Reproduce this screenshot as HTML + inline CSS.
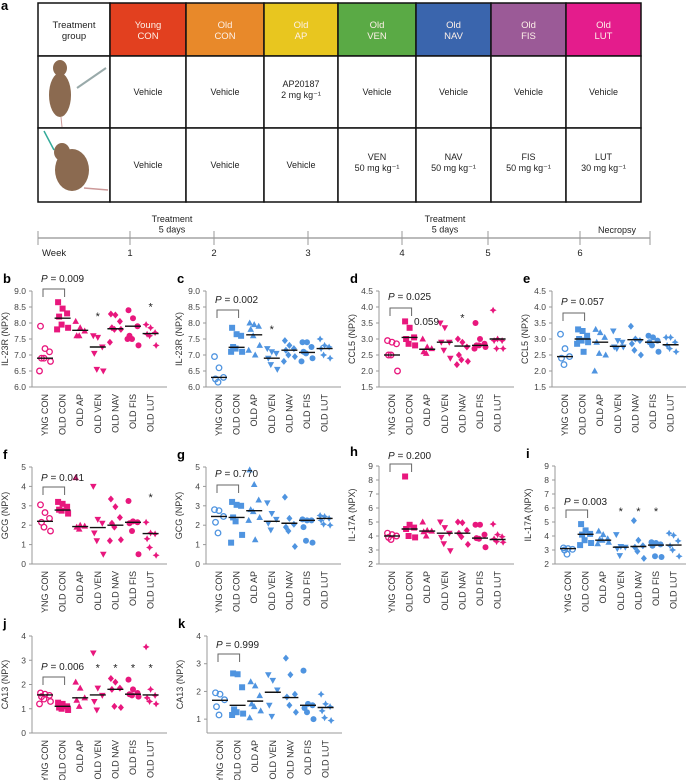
<!DOCTYPE html>
<html><head><meta charset="utf-8"><style>
body{margin:0;background:#fff}
svg{display:block;font-family:"Liberation Sans",sans-serif}
</style></head><body>
<svg id="fig" width="686" height="780" viewBox="0 0 686 780">
<text x="1" y="10" font-size="13" font-weight="bold">a</text>
<g id="table"></g>
<g id="timeline"></g>
<g id="panels"></g>
</svg>
<script>
const NS="http://www.w3.org/2000/svg";
const categories=["YNG CON","OLD CON","OLD AP","OLD VEN","OLD NAV","OLD FIS","OLD LUT"];
const headerTitles=[["Treatment","group"],["Young","CON"],["Old","CON"],["Old","AP"],["Old","VEN"],["Old","NAV"],["Old","FIS"],["Old","LUT"]];
const headerColors=["#ffffff","#e2401f","#e8892a","#e8c61f","#5aaa45","#3a65ad","#9b5a97","#e41c8c"];
const row1Text=[null,["Vehicle"],["Vehicle"],["AP20187","2 mg kg⁻¹"],["Vehicle"],["Vehicle"],["Vehicle"],["Vehicle"]];
const row2Text=[null,["Vehicle"],["Vehicle"],["Vehicle"],["VEN","50 mg kg⁻¹"],["NAV","50 mg kg⁻¹"],["FIS","50 mg kg⁻¹"],["LUT","30 mg kg⁻¹"]];
const weekLabels=["Week","1","2","3","4","5","6"];

const bVals=[[7.9,7.2,7.1,6.9,6.9,6.8,6.5],[8.65,8.45,8.3,8.2,7.95,7.85,7.8],[8.05,7.85,7.75,7.6,7.6],[7.6,7.55,7.25,7.05,6.55,6.5],[8.28,8.25,8.05,7.85,7.8,7.8,7.4],[8.4,8.15,7.9,7.6,7.5,7.3,7.5],[7.95,7.85,7.7,7.65,7.6,7.3]];
const bMeds=[6.9,8.15,7.77,7.25,7.82,7.9,7.67];
const cVals=[[6.95,6.6,6.3,6.25,6.15],[7.85,7.65,7.6,7.25,7.2,7.1,7.1],[8.0,7.95,7.9,7.8,7.6,7.3,7.15,7.0],[7.2,7.1,7.05,6.9,6.7,6.55],[7.45,7.3,7.2,7.15,7.0,6.95,6.8],[7.4,7.4,7.25,7.1,7.05,6.9,6.8],[7.5,7.3,7.25,7.2,7.0,6.9]];
const cMeds=[6.3,7.24,7.63,6.9,7.15,7.08,7.2];
const dVals=[[2.95,2.9,2.85,2.5,2.5,2.0],[3.55,3.35,3.05,3.0,2.85,2.8],[3.0,2.75,2.7,2.6,2.55],[3.5,3.35,2.9,2.9,2.65,2.4],[3.0,2.9,2.75,2.5,2.35,2.3,2.2],[3.5,3.0,2.85,2.8,2.8,2.75,2.7],[3.9,3.0,2.95,2.95,2.7,2.7]];
const dMeds=[2.5,3.05,2.68,2.9,2.78,2.8,3.0];
const eVals=[[3.15,2.7,2.45,2.4,2.2],[3.3,3.25,3.1,3.0,2.95,2.9,2.85,2.6],[3.3,3.2,3.05,2.9,2.55,2.5,2.0],[3.25,2.95,2.9,2.75,2.7,2.75],[3.4,3.0,2.95,2.85,2.65,2.5],[3.1,3.05,2.95,2.9,2.8,2.6],[3.05,3.05,2.9,2.8,2.7,2.6]];
const eMeds=[2.45,3.0,2.9,2.77,2.98,2.9,2.82];
const fVals=[[3.05,2.65,2.35,2.15,1.9,1.7],[3.2,3.1,2.95,2.8,2.75,2.6],[4.45,2.0,1.95,1.9,1.8],[4.0,2.3,2.1,1.6,1.2,0.5],[3.35,2.95,2.4,2.1,1.9,1.25,1.2],[3.25,2.2,2.15,2.1,1.7,0.5],[2.15,1.6,1.55,1.3,0.85,0.45]];
const fMeds=[2.2,2.78,1.93,1.88,2.0,2.15,1.57];
const gVals=[[2.8,2.75,2.45,2.15,1.6],[3.2,3.05,3.0,2.4,2.2,1.5,1.1],[4.85,4.1,3.3,2.8,2.7,2.4,2.25,1.25],[3.15,2.6,2.3,2.1,1.75],[3.45,2.35,2.05,1.9,1.7,0.9],[2.3,2.25,2.25,1.9,1.2,1.1],[2.5,2.45,2.35,2.25,2.05,2.0]];
const gMeds=[2.45,2.4,2.75,2.2,2.1,2.25,2.35];
const hVals=[[4.2,4.1,4.0,3.9,3.75],[8.25,4.8,4.6,4.5,4.0,3.9],[5.0,4.4,4.35,4.3,4.0],[5.0,4.6,4.2,3.9,3.45,2.95],[5.0,4.95,4.4,4.2,3.95,3.4],[4.8,4.8,4.1,3.85,3.8,3.2],[4.85,4.1,3.95,3.8,3.6,3.55]];
const hMeds=[4.0,4.5,4.35,4.2,4.2,3.85,3.75];
const iVals=[[3.15,3.1,3.05,3.0,2.7],[4.85,4.4,4.15,4.1,3.7,3.5,3.35],[4.35,4.1,3.8,3.75,3.7,3.55,3.45],[4.1,3.25,3.2,3.1,2.6],[5.1,3.7,3.3,3.2,2.9,2.4],[3.55,3.5,3.4,3.3,2.55,2.5],[4.2,4.05,3.65,3.3,3.0,2.55]];
const iMeds=[3.1,4.12,3.7,3.2,3.25,3.35,3.35];
const jVals=[[1.65,1.6,1.55,1.5,1.4,1.3,1.2],[1.25,1.2,1.1,1.05,1.0,0.95],[2.1,1.85,1.45,1.35,1.1],[3.3,1.85,1.55,1.3,0.95],[2.25,2.1,1.85,1.8,1.1,1.05],[2.2,1.8,1.65,1.6,1.55,1.5],[3.55,1.8,1.55,1.45,1.3,1.2]];
const jMeds=[1.57,1.1,1.45,1.57,1.8,1.6,1.57];
const kVals=[[1.95,1.9,1.7,1.45,1.15],[2.65,2.62,2.15,1.35,1.25,1.2,1.15],[2.35,2.2,1.85,1.55,1.45,1.3,1.05],[2.6,2.4,2.05,1.5,1.1],[3.2,2.6,1.9,1.8,1.5,1.25],[2.75,1.55,1.5,1.4,1.25,1.0],[1.9,1.55,1.45,1.3,1.05,0.95]];
const kMeds=[1.68,1.5,1.65,1.97,1.78,1.5,1.42];
const ticksIL23=[6.0,6.5,7.0,7.5,8.0,8.5,9.0];
const ticksCCL5=[1.5,2.0,2.5,3.0,3.5,4.0,4.5];
const ticksGCG=[0,1,2,3,4,5];
const ticksIL17=[2,3,4,5,6,7,8,9];
const ticksCA13j=[0,1,2,3,4];
const ticksCA13k=[1,2,3,4];
const pTexts=["0.009","0.002","0.025","0.057","0.041","0.770","0.200","0.003","0.006","0.999"];

const PINK="#e8177d",BLUE="#4f94e0";
function el(tag,attrs,parent){const e=document.createElementNS(NS,tag);for(const k in attrs)e.setAttribute(k,attrs[k]);if(parent)parent.appendChild(e);return e;}
function txt(s,attrs,parent){const e=el("text",attrs,parent);e.textContent=s;return e;}

// ---- table ----
const tbl=document.getElementById("table");
const colX=[38,110,186,264,338,416,491,566,641];
const rowY=[3,56,128,202];
for(let c=0;c<8;c++){
  const r=el("rect",{x:colX[c],y:rowY[0],width:colX[c+1]-colX[c],height:rowY[1]-rowY[0],fill:headerColors[c],stroke:"#111","stroke-width":1.5},tbl);
  
  
  const cx=(colX[c]+colX[c+1])/2;
  headerTitles[c].forEach((s,k)=>{const t=txt(s,{x:cx,y:28+k*11,"font-size":9.5,"text-anchor":"middle",fill:c==0?"#222":"#fdf0e8"},tbl);
    });
  for(let r2=1;r2<3;r2++){
    const rc=el("rect",{x:colX[c],y:rowY[r2],width:colX[c+1]-colX[c],height:rowY[r2+1]-rowY[r2],fill:"#fff",stroke:"#111","stroke-width":1.5},tbl);
    
    const arr=(r2==1?row1Text:row2Text)[c];
    if(arr){const cy=(rowY[r2]+rowY[r2+1])/2;const off=arr.length==2?-5:3;
      arr.forEach((s,k)=>{const t=txt(s,{x:cx,y:cy+off+k*11,"font-size":9,"text-anchor":"middle",fill:"#222"},tbl);
        });}
  }
}
// mice
const m1=el("g",{},tbl);
el("ellipse",{cx:60,cy:95,rx:11,ry:22,fill:"#8b6a50"},m1);el("ellipse",{cx:60,cy:68,rx:7,ry:8,fill:"#8b6a50"},m1);
el("line",{x1:61,y1:117,x2:62,y2:127,stroke:"#c99","stroke-width":1},m1);
el("line",{x1:77,y1:88,x2:106,y2:68,stroke:"#9aa","stroke-width":2},m1);
const m2=el("g",{},tbl);
el("ellipse",{cx:72,cy:170,rx:17,ry:21,fill:"#8b6a50"},m2);el("ellipse",{cx:62,cy:152,rx:8,ry:9,fill:"#8b6a50"},m2);
el("line",{x1:84,y1:188,x2:108,y2:190,stroke:"#c99","stroke-width":1.5},m2);
el("line",{x1:44,y1:131,x2:54,y2:150,stroke:"#3a9",  "stroke-width":1.5},m2);

// ---- timeline ----
const tl=document.getElementById("timeline");
const tickX=[38,130,214,308,402,488,580,650];
const ln=el("line",{x1:38,y1:238,x2:650,y2:238,stroke:"#bbb","stroke-width":2},tl);

tickX.forEach(x=>el("line",{x1:x,y1:231,x2:x,y2:245,stroke:"#999","stroke-width":1},tl));
weekLabels.forEach((s,i)=>{const t=txt(s,{x:i==0?42:tickX[i],y:256,"font-size":9.5,"text-anchor":i==0?"start":"middle",fill:"#222"},tl);
  });
[[172,"Treatment"],[172,"5 days"],[445,"Treatment"],[445,"5 days"]].forEach((a,i)=>{const t=txt(a[1],{x:a[0],y:222+(i%2)*10.5,"font-size":9,"text-anchor":"middle",fill:"#222"},tl);
  });
const nc=txt("Necropsy",{x:617,y:233,"font-size":9,"text-anchor":"middle",fill:"#222"},tl);


// ---- panels ----
const P=document.getElementById("panels");
const panels=[
 {l:"b",ax:32,top:291,bot:387,min:6,max:9,ticks:ticksIL23,dec:1,title:"IL-23R (NPX)",col:PINK,vals:bVals,meds:bMeds,p:pTexts[0],bt:289,pt:282,stars:[[3,8.25],[6,8.55]]},
 {l:"c",ax:206,top:291,bot:387,min:6,max:9,ticks:ticksIL23,dec:1,title:"IL-23R (NPX)",col:BLUE,vals:cVals,meds:cMeds,p:pTexts[1],bt:310,pt:303,stars:[[3,7.85]]},
 {l:"d",ax:379,top:291,bot:387,min:1.5,max:4.5,ticks:ticksCCL5,dec:1,title:"CCL5 (NPX)",col:PINK,vals:dVals,meds:dMeds,p:pTexts[2],bt:308,pt:300,stars:[[4,3.7]],extra:["0.059",414,325]},
 {l:"e",ax:552,top:291,bot:387,min:1.5,max:4.5,ticks:ticksCCL5,dec:1,title:"CCL5 (NPX)",col:BLUE,vals:eVals,meds:eMeds,p:pTexts[3],bt:313,pt:305,stars:[]},
 {l:"f",ax:32,top:467,bot:564,min:0,max:5,ticks:ticksGCG,dec:0,title:"GCG (NPX)",col:PINK,vals:fVals,meds:fMeds,p:pTexts[4],bt:487,pt:481,stars:[[6,3.5]]},
 {l:"g",ax:206,top:467,bot:564,min:0,max:5,ticks:ticksGCG,dec:0,title:"GCG (NPX)",col:BLUE,vals:gVals,meds:gMeds,p:pTexts[5],bt:485,pt:477,stars:[]},
 {l:"h",ax:379,top:466,bot:564,min:2,max:9,ticks:ticksIL17,dec:0,title:"IL-17A (NPX)",col:PINK,vals:hVals,meds:hMeds,p:pTexts[6],bt:464,pt:459,stars:[]},
 {l:"i",ax:555,top:466,bot:564,min:2,max:9,ticks:ticksIL17,dec:0,title:"IL-17A (NPX)",col:BLUE,vals:iVals,meds:iMeds,p:pTexts[7],bt:510,pt:505,stars:[[3,5.85],[4,5.85],[5,5.85]]},
 {l:"j",ax:32,top:636,bot:733,min:0,max:4,ticks:ticksCA13j,dec:0,title:"CA13 (NPX)",col:PINK,vals:jVals,meds:jMeds,p:pTexts[8],bt:677,pt:670,stars:[[3,2.75],[4,2.75],[5,2.75],[6,2.75]]},
 {l:"k",ax:207,top:636,bot:733,min:0.5,max:4,ticks:ticksCA13k,dec:0,title:"CA13 (NPX)",col:BLUE,vals:kVals,meds:kMeds,p:pTexts[9],bt:654,pt:648,stars:[]}
];
function marker(g,ci,x,y,col){
  let m;
  if(ci==0) m=el("circle",{cx:x,cy:y,r:2.8,fill:"none",stroke:col,"stroke-width":1.3},g);
  else if(ci==1) m=el("rect",{x:x-3,y:y-3,width:6,height:6,fill:col},g);
  else if(ci==2) m=el("path",{d:`M${x},${y-3.5}L${x+3.3},${y+2.5}L${x-3.3},${y+2.5}Z`,fill:col},g);
  else if(ci==3) m=el("path",{d:`M${x},${y+3.5}L${x+3.3},${y-2.5}L${x-3.3},${y-2.5}Z`,fill:col},g);
  else if(ci==4) m=el("path",{d:`M${x},${y-3.5}L${x+3},${y}L${x},${y+3.5}L${x-3},${y}Z`,fill:col},g);
  else if(ci==5) m=el("circle",{cx:x,cy:y,r:3,fill:col},g);
  else m=el("path",{d:`M${x},${y-3.5}L${x+1.2},${y-1.2}L${x+3.5},${y}L${x+1.2},${y+1.2}L${x},${y+3.5}L${x-1.2},${y+1.2}L${x-3.5},${y}L${x-1.2},${y-1.2}Z`,fill:col},g);
  return m;
}
panels.forEach(pn=>{
  const g=el("g",{},P);
  
  
  const yS=v=>pn.bot-(v-pn.min)/(pn.max-pn.min)*(pn.bot-pn.top);
  const xS=i=>pn.ax+13+i*17.6;
  const lab=txt(pn.l,{x:pn.ax-29,y:pn.top-(pn.l=="h"?10:8),"font-size":13,"font-weight":"bold"},g);
  
  // axes
  el("line",{x1:pn.ax,y1:pn.top,x2:pn.ax,y2:pn.bot,stroke:"#999","stroke-width":1},g);
  el("line",{x1:pn.ax,y1:pn.bot,x2:pn.ax+135,y2:pn.bot,stroke:"#999","stroke-width":1},g);
  pn.ticks.forEach(t=>{const y=yS(t);el("line",{x1:pn.ax-3,y1:y,x2:pn.ax,y2:y,stroke:"#999"},g);
    const tl2=txt(t.toFixed(pn.dec),{x:pn.ax-6,y:y+3,"font-size":8.5,"text-anchor":"end",fill:"#444"},g);
    });
  const yt=txt(pn.title,{x:0,y:0,"font-size":9,"text-anchor":"middle",fill:"#333",transform:`translate(${pn.ax-24},${(pn.top+pn.bot)/2}) rotate(-90)`},g);
  
  categories.forEach((c,i)=>{const t=txt(c,{x:0,y:0,"font-size":9,"text-anchor":"end",fill:"#333",transform:`translate(${xS(i)+3},${pn.bot+7}) rotate(-90)`},g);
    });
  // points
  pn.vals.forEach((arr,ci)=>{
    arr.forEach((v,k)=>{const off=((k%3)-1)*4.5+(k%2?1:-1)*(k>2?1:0);
      const m=marker(g,ci,xS(ci)+off,yS(v),pn.col);
      });
    const md=el("line",{x1:xS(ci)-8,y1:yS(pn.meds[ci]),x2:xS(ci)+8,y2:yS(pn.meds[ci]),stroke:"#111","stroke-width":1.4},g);
    
  });
  // bracket
  const x0=xS(0),x1=xS(1);
  const br=el("path",{d:`M${x0-2},${pn.bt+8}V${pn.bt}H${x1+2}V${pn.bt+8}`,fill:"none",stroke:"#666","stroke-width":1},g);
  
  const pt=el("text",{x:x0-4,y:pn.pt,"font-size":10,fill:"#222"},g);
  pt.innerHTML=`<tspan font-style="italic">P</tspan> = ${pn.p}`;
  
  pn.stars.forEach(s=>{const st=txt("*",{x:xS(s[0]),y:yS(s[1])+5,"font-size":11,"text-anchor":"middle",fill:"#222"},g);
    });
  if(pn.extra){const ex=txt(pn.extra[0],{x:pn.extra[1],y:pn.extra[2],"font-size":10,fill:"#222"},g);
    }
});
</script>
</body></html>
